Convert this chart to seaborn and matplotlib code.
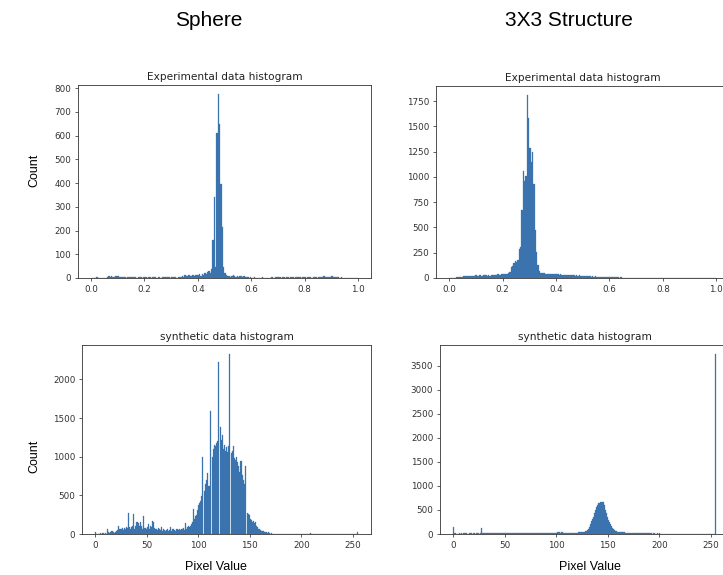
import numpy as np
import pandas as pd
import matplotlib
matplotlib.use("Agg")
import matplotlib.pyplot as plt
import seaborn as sns

# ---------------------------------------------------------------- data
# Experimental histograms: normalised intensity 0..1, 200 bins of width 0.005
exp_edges = np.linspace(0.0, 1.0, 201)

sphere_exp_counts = [
    0, 0, 0, 2, 3, 0, 2, 0, 1, 0,
    0, 2, 6, 8, 5, 7, 4, 6, 9, 7,
    8, 5, 4, 6, 3, 5, 2, 4, 6, 5,
    3, 4, 6, 3, 2, 5, 4, 3, 2, 4,
    5, 3, 2, 4, 3, 2, 5, 3, 4, 2,
    3, 5, 2, 4, 3, 6, 4, 3, 5, 2,
    4, 6, 3, 5, 2, 4, 6, 3, 8, 5,
    12, 7, 9, 11, 8, 10, 12, 9, 11, 13,
    12, 15, 10, 18, 14, 20, 16, 24, 28, 22,
    40, 160, 340, 45, 610, 775, 650, 398, 216, 45,
    22, 12, 8, 10, 6, 9, 12, 7, 5, 8,
    6, 10, 7, 5, 8, 4, 6, 3, 2, 3,
    2, 0, 3, 1, 0, 2, 0, 1, 3, 0,
    2, 0, 1, 0, 2, 3, 0, 2, 4, 3,
    3, 5, 2, 4, 3, 2, 5, 3, 2, 4,
    3, 5, 2, 6, 4, 3, 5, 2, 4, 3,
    4, 2, 5, 3, 6, 2, 4, 3, 5, 2,
    5, 3, 6, 4, 8, 5, 3, 6, 4, 5,
    7, 4, 6, 5, 3, 4, 2, 3, 1, 2,
    0, 1, 0, 0, 0, 0, 0, 0, 0, 0,
]

grid_exp_counts = [
    0, 0, 0, 0, 2, 5, 8, 6, 10, 12,
    15, 18, 20, 17, 22, 19, 24, 21, 18, 25,
    28, 24, 30, 26, 22, 27, 25, 29, 23, 26,
    24, 28, 31, 27, 33, 29, 35, 30, 34, 38,
    36, 40, 42, 38, 45, 60, 110, 120, 150, 165,
    160, 175, 290, 310, 675, 1060, 960, 1010, 1810, 1580,
    1290, 1150, 1250, 930, 480, 260, 130, 65, 50, 45,
    45, 48, 42, 44, 40, 43, 38, 41, 36, 39,
    35, 37, 33, 36, 31, 34, 30, 32, 28, 31,
    27, 29, 26, 28, 24, 27, 22, 25, 21, 23,
    20, 18, 16, 19, 15, 17, 14, 16, 12, 15,
    13, 11, 14, 10, 12, 9, 11, 8, 10, 9,
    8, 7, 9, 6, 7, 5, 6, 4, 5, 4,
    3, 4, 2, 3, 1, 3, 2, 0, 2, 1,
    2, 0, 1, 3, 0, 1, 2, 0, 1, 0,
    0, 1, 0, 2, 0, 0, 3, 0, 1, 0,
    0, 0, 1, 0, 0, 0, 0, 0, 0, 0,
    0, 0, 0, 0, 0, 0, 0, 0, 0, 0,
    0, 0, 0, 0, 0, 0, 0, 0, 0, 0,
    0, 0, 0, 0, 0, 0, 0, 0, 0, 0,
]

# Synthetic histograms: pixel values 0..255, unit-width bins
syn_edges = np.arange(0, 256)

sphere_syn_counts = [
    20, 0, 0, 5, 0, 8, 0, 12, 10, 5,
    15, 0, 65, 20, 10, 30, 40, 25, 15, 30,
    45, 55, 100, 60, 70, 65, 75, 50, 80, 70,
    85, 75, 270, 90, 60, 95, 110, 260, 70, 100,
    150, 160, 140, 110, 155, 100, 60, 230, 80, 70,
    90, 130, 60, 100, 90, 170, 160, 80, 70, 60,
    55, 75, 60, 50, 85, 45, 65, 55, 40, 50,
    60, 45, 55, 90, 40, 65, 70, 50, 45, 60,
    55, 70, 50, 65, 60, 75, 55, 140, 70, 95,
    100, 85, 110, 130, 150, 330, 200, 230, 250, 310,
    370, 400, 430, 490, 1000, 0, 560, 650, 700, 790,
    620, 1590, 0, 1000, 1100, 1150, 1140, 1180, 1200, 2220,
    0, 1380, 1220, 1280, 1100, 1150, 1080, 1120, 1060, 1140,
    2330, 0, 1050, 1080, 1140, 990, 960, 1000, 930, 880,
    800, 950, 760, 700, 650, 880, 0, 270, 260, 250,
    190, 180, 160, 170, 140, 150, 110, 95, 70, 60,
    50, 45, 35, 40, 30, 25, 20, 15, 25, 10,
    5, 8, 0, 3, 0, 5, 0, 2, 0, 4,
    0, 0, 3, 0, 0, 5, 0, 0, 0, 2,
    0, 0, 0, 0, 3, 0, 0, 5, 0, 6,
    0, 0, 4, 0, 0, 0, 0, 0, 8, 0,
    0, 0, 0, 0, 0, 0, 0, 0, 5, 0,
    0, 0, 0, 0, 0, 0, 0, 0, 0, 0,
    0, 0, 0, 0, 0, 0, 0, 0, 0, 0,
    0, 0, 0, 0, 0, 0, 0, 0, 0, 0,
    0, 0, 0, 0, 20,
]

grid_syn_counts = [
    150, 20, 15, 0, 5, 10, 12, 8, 15, 10,
    12, 20, 15, 30, 10, 8, 12, 15, 10, 12,
    15, 10, 12, 18, 15, 10, 20, 125, 15, 18,
    15, 18, 16, 17, 15, 18, 16, 17, 15, 16,
    17, 15, 18, 16, 15, 17, 16, 18, 15, 17,
    16, 15, 17, 18, 16, 15, 17, 16, 18, 15,
    17, 16, 15, 18, 16, 17, 15, 16, 18, 17,
    15, 16, 17, 15, 18, 16, 17, 15, 16, 18,
    17, 15, 16, 18, 15, 17, 16, 15, 18, 16,
    17, 15, 16, 18, 17, 15, 16, 17, 18, 20,
    30, 35, 32, 34, 30, 33, 35, 28, 20, 18,
    18, 16, 17, 18, 20, 19, 22, 25, 28, 30,
    30, 32, 35, 38, 40, 45, 48, 50, 60, 70,
    85, 110, 150, 200, 260, 310, 360, 430, 500, 560,
    600, 640, 660, 673, 670, 660, 600, 500, 430, 360,
    290, 240, 200, 160, 130, 100, 85, 70, 60, 50,
    48, 45, 40, 38, 35, 35, 32, 30, 30, 28,
    30, 28, 25, 28, 30, 25, 22, 28, 25, 22,
    20, 25, 22, 18, 20, 22, 15, 18, 20, 15,
    15, 12, 15, 10, 12, 15, 10, 8, 12, 10,
    15, 10, 8, 6, 5, 8, 4, 5, 3, 4,
    3, 0, 4, 0, 2, 0, 3, 0, 0, 2,
    0, 0, 3, 0, 0, 0, 2, 0, 0, 0,
    0, 2, 0, 0, 0, 0, 0, 2, 0, 0,
    0, 0, 0, 0, 0, 0, 0, 0, 0, 0,
    0, 0, 0, 0, 3740,
]

exp_xticks = [0.0, 0.2, 0.4, 0.6, 0.8, 1.0]
syn_xticks = [0, 50, 100, 150, 200, 250]
sphere_exp_yticks = [0, 100, 200, 300, 400, 500, 600, 700, 800]
grid_exp_yticks = [0, 250, 500, 750, 1000, 1250, 1500, 1750]
sphere_syn_yticks = [0, 500, 1000, 1500, 2000]
grid_syn_yticks = [0, 500, 1000, 1500, 2000, 2500, 3000, 3500]

column_titles = ["Sphere", "3X3 Structure"]
panel_titles = ["Experimental data histogram", "synthetic data histogram"]

BAR_COLOR = "#3a73ad"

# ---------------------------------------------------------------- figure
W, H = 723, 575
fig = plt.figure(figsize=(W / 100, H / 100), dpi=100)
fig.patch.set_facecolor("white")


def px_axes(left, top, right, bottom):
    return fig.add_axes([left / W, 1 - bottom / H, (right - left) / W, (bottom - top) / H])


def draw_hist(ax, edges, counts, title, xticks, yticks, xfmt):
    edges = np.asarray(edges, dtype=float)
    table = pd.DataFrame({
        "value": (edges[:-1] + edges[1:]) / 2,
        "count": np.asarray(counts, dtype=float),
    })
    sns.histplot(data=table, x="value", weights="count",
                 bins=[float(e) for e in edges], ax=ax,
                 color=BAR_COLOR, alpha=1.0, edgecolor=BAR_COLOR, linewidth=0.2)
    ax.set_title(title, fontsize=7.6, pad=3.5, color="#222222")
    ax.set_xlabel("")
    ax.set_ylabel("")
    ax.set_xticks(xticks)
    ax.set_xticklabels([xfmt(v) for v in xticks])
    ax.set_yticks(yticks)
    ax.tick_params(labelsize=6.3, length=2.5, width=0.55, pad=2.2,
                   color="#333333", labelcolor="#333333")
    for s in ax.spines.values():
        s.set_linewidth(0.6)
        s.set_color("#333333")


ax_tl = px_axes(77.6, 85, 371.4, 278)
ax_tr = px_axes(436.0, 86, 729.6, 278)
ax_bl = px_axes(81.8, 345, 371.3, 534)
ax_br = px_axes(439.8, 345, 729.3, 534)

draw_hist(ax_tl, exp_edges, sphere_exp_counts, panel_titles[0],
          exp_xticks, sphere_exp_yticks, lambda v: f"{v:.1f}")
draw_hist(ax_tr, exp_edges, grid_exp_counts, panel_titles[0],
          exp_xticks, grid_exp_yticks, lambda v: f"{v:.1f}")
draw_hist(ax_bl, syn_edges, sphere_syn_counts, panel_titles[1],
          syn_xticks, sphere_syn_yticks, lambda v: f"{v:d}")
draw_hist(ax_br, syn_edges, grid_syn_counts, panel_titles[1],
          syn_xticks, grid_syn_yticks, lambda v: f"{v:d}")

label_font = dict(family=["Liberation Sans", "DejaVu Sans"], color="black")
fig.text(209 / W, 1 - 20 / H, column_titles[0], ha="center", va="center",
         fontsize=15, **label_font)
fig.text(569 / W, 1 - 20 / H, column_titles[1], ha="center", va="center",
         fontsize=15, **label_font)
fig.text(34 / W, 1 - 170 / H, "Count", rotation=90, ha="center", va="center",
         fontsize=9, **label_font)
fig.text(34 / W, 1 - 456 / H, "Count", rotation=90, ha="center", va="center",
         fontsize=9, **label_font)
fig.text(216 / W, 1 - 567 / H, "Pixel Value", ha="center", va="center",
         fontsize=9, **label_font)
fig.text(590 / W, 1 - 567 / H, "Pixel Value", ha="center", va="center",
         fontsize=9, **label_font)

fig.savefig("out.png", dpi=100, facecolor="white")
